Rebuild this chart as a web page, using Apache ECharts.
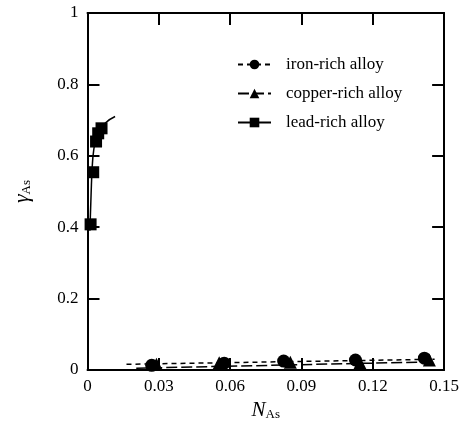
<!DOCTYPE html>
<html>
<head>
<meta charset="utf-8">
<title>gamma As</title>
<script src="https://cdn.jsdelivr.net/npm/echarts@6/dist/echarts.min.js"></script>
<style>
  html, body { margin: 0; padding: 0; background: #fff; }
  #chart { width: 462px; height: 431px; }
</style>
</head>
<body>
<div id="chart"></div>
<script type="text/javascript">
// measured points
var ironX = [0.027, 0.0575, 0.0825, 0.1127, 0.1417];
var ironY = [0.013, 0.019, 0.025, 0.028, 0.033];
var copperX = [0.029, 0.0554, 0.0853, 0.1146, 0.1438];
var copperY = [0.016, 0.020, 0.0215, 0.020, 0.028];
var leadX = [0.0013, 0.0024, 0.0036, 0.0045, 0.0059];
var leadY = [0.408, 0.554, 0.640, 0.663, 0.677];

// fitted curves
var ironFitX = [0.0164, 0.146];
var ironFitY = [0.016, 0.030];
var copperFitX = [0.0205, 0.146];
var copperFitY = [0.005, 0.023];
var leadFitX = [0.0010, 0.0015, 0.0020, 0.0026, 0.0035, 0.0050, 0.0075, 0.0116];
var leadFitY = [0.39, 0.49, 0.57, 0.615, 0.645, 0.67, 0.692, 0.71];

var xTicks = [0, 0.03, 0.06, 0.09, 0.12, 0.15];
var yTicks = [0, 0.2, 0.4, 0.6, 0.8, 1];

function pairs(xs, ys) {
    return xs.map(function (x, i) { return [x, ys[i]]; });
}

var font = 'Liberation Serif';
var chart = echarts.init(document.getElementById('chart'));

var axisCommon = {
    axisLine: { onZero: false, lineStyle: { color: '#000', width: 2 } },
    axisTick: { inside: true, length: 12, lineStyle: { color: '#000', width: 2 } },
    splitLine: { show: false }
};

var option = {
    animation: false,
    grid: { left: 87.5, right: 16, top: 13, bottom: 61 },
    legend: {
        orient: 'vertical',
        left: 232,
        top: 51,
        itemWidth: 33,
        itemHeight: 12,
        itemGap: 12,
        data: ['iron-rich alloy', 'copper-rich alloy', 'lead-rich alloy'],
        textStyle: { fontFamily: font, fontSize: 17, color: '#000', padding: [0, 0, 0, 10] }
    },
    xAxis: [
        Object.assign({
            type: 'value', min: 0, max: 0.15, interval: 0.03, position: 'bottom',
            name: '{n|N}{s|As}', nameLocation: 'middle', nameGap: 30,
            nameTextStyle: {
                rich: {
                    n: { fontFamily: font, fontSize: 21, fontStyle: 'italic', color: '#000' },
                    s: { fontFamily: font, fontSize: 13, color: '#000', padding: [8, 0, 0, 0] }
                }
            },
            axisLabel: {
                fontFamily: font, fontSize: 17, color: '#000', margin: 8,
                formatter: function (v) { return xTicks.indexOf(v) >= 0 ? String(v) : ''; }
            }
        }, axisCommon),
        Object.assign({
            type: 'value', min: 0, max: 0.15, interval: 0.03, position: 'top',
            axisLabel: { show: false }
        }, axisCommon)
    ],
    yAxis: [
        Object.assign({
            type: 'value', min: 0, max: 1, interval: 0.2, position: 'left',
            name: '{g|γ}{s|As}', nameLocation: 'middle', nameGap: 54, nameRotate: 90,
            nameTextStyle: {
                rich: {
                    g: { fontFamily: font, fontSize: 22, fontStyle: 'italic', color: '#000' },
                    s: { fontFamily: font, fontSize: 13, color: '#000', padding: [8, 0, 0, 0] }
                }
            },
            axisLabel: {
                fontFamily: font, fontSize: 17, color: '#000', margin: 9,
                formatter: function (v) { return yTicks.indexOf(v) >= 0 ? String(v) : ''; }
            }
        }, axisCommon),
        Object.assign({
            type: 'value', min: 0, max: 1, interval: 0.2, position: 'right',
            axisLabel: { show: false }
        }, axisCommon)
    ],
    series: [
        {
            name: 'iron-rich alloy', type: 'line', data: pairs(ironFitX, ironFitY),
            showSymbol: false, symbol: 'circle', clip: false,
            itemStyle: { color: '#000' },
            lineStyle: { color: '#000', width: 1.5, type: [5, 4] }
        },
        {
            name: 'copper-rich alloy', type: 'line', data: pairs(copperFitX, copperFitY),
            showSymbol: false, symbol: 'triangle', clip: false,
            itemStyle: { color: '#000' },
            lineStyle: { color: '#000', width: 1.5, type: [11, 4] }
        },
        {
            name: 'lead-rich alloy', type: 'line', data: pairs(leadFitX, leadFitY),
            showSymbol: false, symbol: 'rect', smooth: true, clip: false,
            itemStyle: { color: '#000' },
            lineStyle: { color: '#000', width: 1.5 }
        },
        {
            name: 'iron points', type: 'scatter', data: pairs(ironX, ironY),
            symbol: 'circle', symbolSize: 13, clip: false, itemStyle: { color: '#000', opacity: 1 }
        },
        {
            name: 'copper points', type: 'scatter', data: pairs(copperX, copperY),
            symbol: 'triangle', symbolSize: 13, clip: false, itemStyle: { color: '#000', opacity: 1 }
        },
        {
            name: 'lead points', type: 'scatter', data: pairs(leadX, leadY),
            symbol: 'rect', symbolSize: 12, clip: false, itemStyle: { color: '#000', opacity: 1 }
        }
    ]
};

chart.setOption(option);
</script>
</body>
</html>
